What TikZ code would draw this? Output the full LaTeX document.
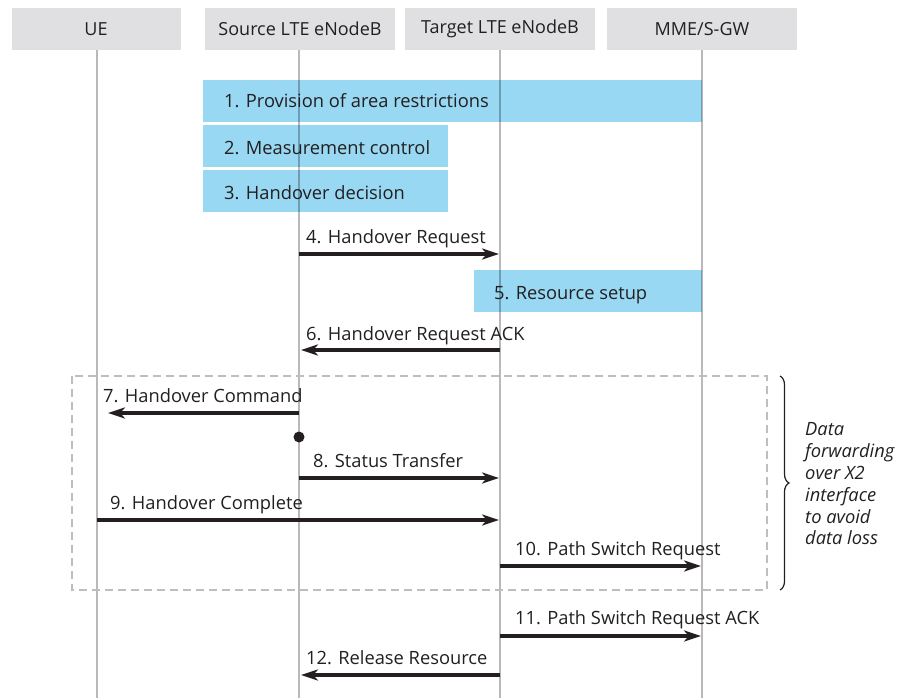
\documentclass[tikz,border=0pt]{standalone}
\usepackage{fontspec}
\setmainfont{Open Sans}
\usetikzlibrary{arrows.meta,decorations.pathreplacing}
\definecolor{hdrgray}{RGB}{224,224,226}
\definecolor{linegray}{RGB}{185,185,189}
\definecolor{boxblue}{RGB}{152,216,242}
\definecolor{txt}{RGB}{35,31,32}
\definecolor{dashgray}{RGB}{190,190,192}
\tikzset{
  hdr/.style={fill=hdrgray,minimum width=169pt,minimum height=42pt,inner sep=0pt,text=txt,font=\fontsize{18}{21}\selectfont},
  life/.style={draw=linegray,line width=2.8pt},
  bluebox/.style={fill=boxblue,draw=none},
  msg/.style={line width=3.1pt,-{Stealth[length=17pt,width=11pt,inset=5pt]},txt},
  lbl/.style={anchor=base west,inner sep=0pt,text=txt,font=\fontsize{18.3}{21}\selectfont},
  side/.style={anchor=base west,inner sep=0pt,text=txt,font=\fontsize{18.3}{21}\selectfont\itshape}
}
\begin{document}
\begin{tikzpicture}[x=1pt,y=-1pt]
\useasboundingbox (0,0) rectangle (907,698);
% headers
\node[hdr] (ue) at (96,29) {UE};
\node[hdr,minimum width=190pt] (src) at (300,29) {Source LTE eNodeB};
\node[hdr,minimum width=190pt] (tgt) at (500,29) {Target LTE eNodeB};
\node[hdr,minimum width=190pt] (mme) at (702,29) {MME/S-GW};
% blue boxes
\fill[bluebox] (203,80) rectangle (702,122);
\fill[bluebox] (203,125) rectangle (448,167);
\fill[bluebox] (203,170) rectangle (448,212);
\fill[bluebox] (474,270) rectangle (702,312);
% lifeline ends
\coordinate (ueb) at (97,698);
\coordinate (srcb) at (299,698);
\coordinate (tgtb) at (500,698);
\coordinate (mmeb) at (702,698);
\begin{scope}[blend mode=multiply]
\draw[life] (ue.south -| ueb) -- (ueb);
\draw[life] (src.south -| srcb) -- (srcb);
\draw[life] (tgt.south -| tgtb) -- (tgtb);
\draw[life] (mme.south -| mmeb) -- (mmeb);
\end{scope}
\node[lbl] (b1) at (224,108) {1. Provision of area restrictions};
\node[lbl] (b2) at (224,154) {2. Measurement control};
\node[lbl] (b3) at (224,199) {3. Handover decision};
\node[lbl] (b5) at (494,299) {5. Resource setup};
% dashed frame
\draw[dashgray,line width=2pt,dash pattern=on 8pt off 5pt] (72,376) rectangle (767,590);
% brace
\draw[txt,line width=1.2pt,decorate,decoration={brace,amplitude=9pt}] (780,376) -- (780,590);
\node[side] (s1) at (805,435) {Data};
\node[side] (s2) at (805,457) {forwarding};
\node[side] (s3) at (805,479) {over X2};
\node[side] (s4) at (805,501) {interface};
\node[side] (s5) at (805,523) {to avoid};
\node[side] (s6) at (805,544) {data loss};
% message points
\coordinate (s4a) at (299,254); \coordinate (t4a) at (499,254);
\coordinate (t6a) at (500,350); \coordinate (s6a) at (301,350);
\coordinate (s7a) at (299,413); \coordinate (u7a) at (108,413);
\coordinate (s8a) at (299,478); \coordinate (t8a) at (499,478);
\coordinate (u9a) at (97,520);  \coordinate (t9a) at (499,520);
\coordinate (t10a) at (500,566); \coordinate (m10a) at (701,566);
\coordinate (t11a) at (500,636); \coordinate (m11a) at (701,636);
\coordinate (t12a) at (500,675); \coordinate (s12a) at (301,675);
\draw[msg] (s4a) -- (t4a);
\draw[msg] (t6a) -- (s6a);
\draw[msg] (s7a) -- (u7a);
\draw[msg] (s8a) -- (t8a);
\draw[msg] (u9a) -- (t9a);
\draw[msg] (t10a) -- (m10a);
\draw[msg] (t11a) -- (m11a);
\draw[msg] (t12a) -- (s12a);
\node[circle,fill=txt,inner sep=0pt,minimum size=11pt] (dot) at (299,437) {};
% labels
\node[lbl] (l4) at (306,243) {4. Handover Request};
\node[lbl] (l6) at (306,340) {6. Handover Request ACK};
\node[lbl] (l7) at (103,402) {7. Handover Command};
\node[lbl] (l8) at (313,467) {8. Status Transfer};
\node[lbl] (l9) at (110,509) {9. Handover Complete};
\node[lbl] (l10) at (515,555) {10. Path Switch Request};
\node[lbl] (l11) at (515,624) {11. Path Switch Request ACK};
\node[lbl] (l12) at (306,664) {12. Release Resource};
\end{tikzpicture}
\end{document}
